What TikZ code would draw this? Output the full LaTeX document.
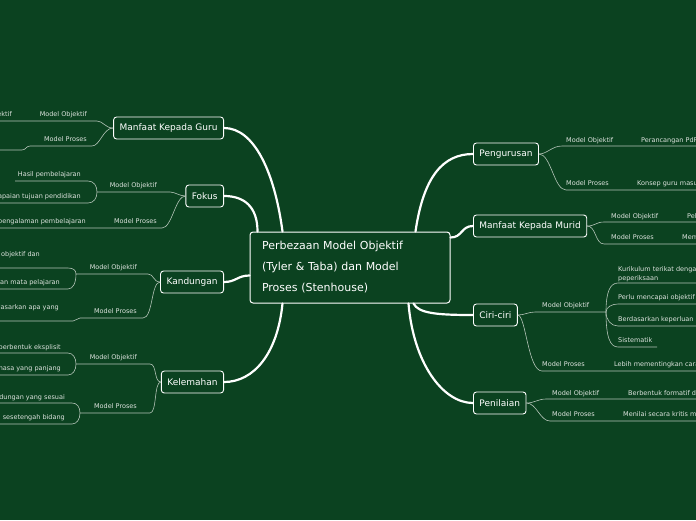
\documentclass[tikz,border=0pt]{standalone}
\usepackage{fontspec}
\setmainfont{DejaVu Sans}
\usepackage{tikz}
\definecolor{bgGreen}{HTML}{0B4220}
\definecolor{twigGrey}{HTML}{B4C4B8}
\definecolor{textGrey}{HTML}{DDE3DE}

\begin{document}
\begin{tikzpicture}[
    x=1pt, y=-1pt,
    main/.style={rectangle, rounded corners=3pt, draw=white, line width=1pt, fill=bgGreen, text=white, font=\fontsize{11}{21}\selectfont, text width=176pt, inner xsep=12pt, minimum height=71pt, align=left},
    topic/.style={rectangle, rounded corners=3pt, draw=white, line width=0.9pt, fill=bgGreen, text=white, font=\fontsize{9}{11}\selectfont, minimum height=22pt, inner xsep=6pt},
    lbl/.style={text=textGrey, font=\fontsize{6.5}{9}\selectfont, inner sep=0pt},
    lblL/.style={lbl, anchor=base east},
    lblR/.style={lbl, anchor=base west},
    trunk/.style={draw=white, line width=2.2pt, line cap=round},
    twig/.style={draw=twigGrey, line width=0.6pt}
]
    \fill[bgGreen] (0,0) rectangle (696,520);
    \useasboundingbox (0,0) rectangle (696,520);
    \clip (0,0) rectangle (696,520);
    \coordinate (edgeL) at (0,0);
    \coordinate (edgeR) at (696,0);

    \node[main] (centre) at (350,267.5) {Perbezaan Model Objektif\\(Tyler \& Taba) dan Model\\Proses (Stenhouse)};

    \node[topic, anchor=east] (guru) at (224,128) {Manfaat Kepada Guru};
    \node[topic, anchor=east] (fokus) at (224,196) {Fokus};
    \node[topic, anchor=east] (kandungan) at (224,282) {Kandungan};
    \node[topic, anchor=east] (kelemahan) at (224,382) {Kelemahan};
    \node[topic, anchor=west] (pengurusan) at (473,154) {Pengurusan};
    \node[topic, anchor=west] (murid) at (473,226) {Manfaat Kepada Murid};
    \node[topic, anchor=west] (ciri) at (473,315) {Ciri-ciri};
    \node[topic, anchor=west] (penilaian) at (473,403) {Penilaian};

    % main branches
    \draw[trunk] ([xshift=33pt]centre.north west) .. controls +(-8,-60) and +(30,0) .. (guru.east);
    \draw[trunk] ([xshift=8pt]centre.north west) .. controls +(0,-25) and +(20,0) .. (fokus.east);
    \draw[trunk] ([yshift=-8pt]centre.west) .. controls +(-12,0) and +(12,0) .. (kandungan.east);
    \draw[trunk] ([xshift=33pt]centre.south west) .. controls +(-5,50) and +(30,0) .. (kelemahan.east);
    \draw[trunk] ([xshift=-35pt]centre.north east) .. controls +(8,-55) and +(-30,0) .. (pengurusan.west);
    \draw[trunk] ([yshift=-6pt]centre.north east) .. controls +(12,0) and +(-12,0) .. (murid.west);
    \draw[trunk] ([xshift=-37pt]centre.south east) .. controls +(5,10) and +(-35,0) .. (ciri.west);
    \draw[trunk] ([xshift=-42pt]centre.south east) .. controls +(5,60) and +(-30,0) .. (penilaian.west);

    % Manfaat Kepada Guru
    \coordinate (gMO) at (97,121);
    \coordinate (gMP) at (92,146);
    \coordinate (gMPc) at (30,146);
    \coordinate (gMPd) at (22,150);
    \node[lblL] (guruMO) at (87,116) {Model Objektif};
    \node[lblL] (guruMOa) at (12,116) {ektif};
    \node[lblL] (guruMP) at (87,141) {Model Proses};
    \draw[twig] (guru.west) .. controls +(-8,0) and +(6,0) .. (gMO) -- (gMO -| edgeL);
    \draw[twig] (guru.west) .. controls +(-10,0) and +(8,0) .. (gMP) -- (gMPc) .. controls +(-4,0) and +(4,0) .. (gMPd) -- (gMPd -| edgeL);

    % Fokus
    \coordinate (fMO) at (170,192);
    \coordinate (fJ) at (97,192);
    \coordinate (fH) at (88,181);
    \coordinate (fHe) at (15,181);
    \coordinate (fA) at (88,203);
    \coordinate (fMP) at (162,228);
    \node[lblL] (fokusMO) at (157,187) {Model Objektif};
    \node[lblL] (fokusMOa) at (81,176) {Hasil pembelajaran};
    \node[lblL] (fokusMOb) at (81,198) {apaian tujuan pendidikan};
    \node[lblL] (fokusMP) at (157,223) {Model Proses};
    \node[lblL] (fokusMPa) at (86,223) {pengalaman pembelajaran};
    \draw[twig] (fokus.west) .. controls +(-6,0) and +(5,0) .. (fMO) -- (fJ);
    \draw[twig] (fJ) .. controls +(0,-6) and +(6,0) .. (fH) -- (fHe);
    \draw[twig] (fJ) .. controls +(0,6) and +(6,0) .. (fA) -- (fA -| edgeL);
    \draw[twig] (fokus.west) .. controls +(-10,0) and +(10,0) .. (fMP) -- (fMP -| edgeL);

    % Kandungan
    \coordinate (kMO) at (148,274);
    \coordinate (kJ) at (76,274);
    \coordinate (kT) at (68,268);
    \coordinate (kB) at (68,289);
    \coordinate (kMP) at (143,318);
    \coordinate (kMPc) at (80,318);
    \coordinate (kMPd) at (73,321);
    \node[lblL] (kandMO) at (137,269) {Model Objektif};
    \node[lblL] (kandMOa) at (40,256) {objektif dan};
    \node[lblL] (kandMOb) at (60,284) {an mata pelajaran};
    \node[lblL] (kandMP) at (137,313) {Model Proses};
    \node[lblL] (kandMPa) at (59,309) {dasarkan apa yang};
    \draw[twig] (kandungan.west) .. controls +(-7,0) and +(6,0) .. (kMO) -- (kJ);
    \draw[twig] (kJ) .. controls +(0,-4) and +(5,0) .. (kT) -- (kT -| edgeL);
    \draw[twig] (kJ) .. controls +(0,9) and +(5,0) .. (kB) -- (kB -| edgeL);
    \draw[twig] (kandungan.west) .. controls +(-9,0) and +(10,0) .. (kMP) -- (kMPc) .. controls +(-3,0) and +(3,0) .. (kMPd) -- (kMPd -| edgeL);

    % Kelemahan
    \coordinate (lMO) at (150,364);
    \coordinate (lJ) at (76,364);
    \coordinate (lT) at (68,353);
    \coordinate (lB) at (68,375);
    \coordinate (lMP) at (150,413);
    \coordinate (lJb) at (80,413);
    \coordinate (lTb) at (72,403);
    \coordinate (lBb) at (72,424);
    \node[lblL] (lemMO) at (137,359) {Model Objektif};
    \node[lblL] (lemMOa) at (61,349) {berbentuk eksplisit};
    \node[lblL] (lemMOb) at (61,370) {nasa yang panjang};
    \node[lblL] (lemMP) at (137,408) {Model Proses};
    \node[lblL] (lemMPa) at (65,399) {dungan yang sesuai};
    \node[lblL] (lemMPb) at (65,419) {a sesetengah bidang};
    \draw[twig] (kelemahan.west) .. controls +(-7,0) and +(7,0) .. (lMO) -- (lJ);
    \draw[twig] (lJ) .. controls +(0,-6) and +(5,0) .. (lT) -- (lT -| edgeL);
    \draw[twig] (lJ) .. controls +(0,6) and +(5,0) .. (lB) -- (lB -| edgeL);
    \draw[twig] (kelemahan.west) .. controls +(-7,0) and +(7,0) .. (lMP) -- (lJb);
    \draw[twig] (lJb) .. controls +(0,-6) and +(5,0) .. (lTb) -- (lTb -| edgeL);
    \draw[twig] (lJb) .. controls +(0,6) and +(5,0) .. (lBb) -- (lBb -| edgeL);

    % Pengurusan
    \coordinate (pMO) at (562,146);
    \coordinate (pMP) at (566,190);
    \node[lblR] (pengMO) at (566,142) {Model Objektif};
    \node[lblR] (pengMOa) at (641,142) {Perancangan PdP};
    \node[lblR] (pengMP) at (566,185) {Model Proses};
    \node[lblR] (pengMPa) at (637,185) {Konsep guru masu};
    \draw[twig] (pengurusan.east) .. controls +(8,0) and +(-10,0) .. (pMO) -- (pMO -| edgeR);
    \draw[twig] (pengurusan.east) .. controls +(12,0) and +(-12,0) .. (pMP) -- (pMP -| edgeR);

    % Manfaat Kepada Murid
    \coordinate (mMO) at (604,222);
    \coordinate (mMP) at (604,244);
    \node[lblR] (muridMO) at (611,218) {Model Objektif};
    \node[lblR] (muridMOa) at (687,218) {Pel};
    \node[lblR] (muridMP) at (611,239) {Model Proses};
    \node[lblR] (muridMPa) at (682,239) {Mem};
    \draw[twig] (murid.east) .. controls +(8,0) and +(-8,0) .. (mMO) -- (mMO -| edgeR);
    \draw[twig] (murid.east) .. controls +(9,0) and +(-9,0) .. (mMP) -- (mMP -| edgeR);

    % Ciri-ciri
    \coordinate (cMO) at (535,312);
    \coordinate (cJ) at (606,312);
    \coordinate (cK) at (618,283);
    \coordinate (cP) at (618,304);
    \coordinate (cB) at (618,326);
    \coordinate (cS) at (618,347);
    \coordinate (cSe) at (657,347);
    \coordinate (cMP) at (542,371);
    \node[lblR] (ciriMO) at (542,307) {Model Objektif};
    \node[lbl, anchor=north west, align=left] (ciriMOa) at (618,266) {Kurikulum terikat dengan\\peperiksaan};
    \node[lblR] (ciriMOb) at (618,299) {Perlu mencapai objektif};
    \node[lblR] (ciriMOc) at (618,321) {Berdasarkan keperluan};
    \node[lblR] (ciriMOd) at (618,342) {Sistematik};
    \node[lblR] (ciriMP) at (542,366) {Model Proses};
    \node[lblR] (ciriMPa) at (614,366) {Lebih mementingkan cara};
    \draw[twig] (ciri.east) .. controls +(7,0) and +(-7,0) .. (cMO) -- (cJ);
    \draw[twig] (cJ) .. controls +(0,-20) and +(-8,0) .. (cK) -- (cK -| edgeR);
    \draw[twig] (cJ) .. controls +(0,-5) and +(-6,0) .. (cP) -- (cP -| edgeR);
    \draw[twig] (cJ) .. controls +(0,8) and +(-7,0) .. (cB) -- (cB -| edgeR);
    \draw[twig] (cJ) .. controls +(0,25) and +(-8,0) .. (cS) -- (cSe);
    \draw[twig] (ciri.east) .. controls +(8,0) and +(-14,0) .. (cMP) -- (cMP -| edgeR);

    % Penilaian
    \coordinate (nMO) at (546,399);
    \coordinate (nMP) at (550,421);
    \node[lblR] (nilaiMO) at (552,395) {Model Objektif};
    \node[lblR] (nilaiMOa) at (628,395) {Berbentuk formatif d};
    \node[lblR] (nilaiMP) at (552,416) {Model Proses};
    \node[lblR] (nilaiMPa) at (623,416) {Menilai secara kritis m};
    \draw[twig] (penilaian.east) .. controls +(8,0) and +(-8,0) .. (nMO) -- (nMO -| edgeR);
    \draw[twig] (penilaian.east) .. controls +(10,0) and +(-10,0) .. (nMP) -- (nMP -| edgeR);
\end{tikzpicture}
\end{document}
